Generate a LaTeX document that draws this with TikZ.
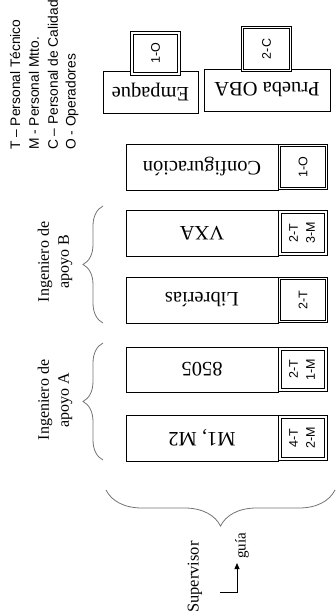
\documentclass[tikz,border=0pt]{standalone}
\usepackage{fontspec}
\setmainfont{Liberation Serif}
\newfontfamily\arialf{Liberation Sans}
\usetikzlibrary{arrows.meta,decorations.pathreplacing}
\newcommand{\twol}[2]{\rotatebox{90}{\begin{tabular}{@{}c@{}}#1\\#2\end{tabular}}}
\begin{document}
\begin{tikzpicture}[x=1pt,y=1pt,
  mainbox/.style={draw, line width=0.7pt, fill=white, inner sep=0pt,
    font=\fontsize{20.5}{24}\selectfont},
  tagbox/.style={draw, fill=white, double, double distance=1.3pt, line width=0.7pt,
    inner sep=0pt, font=\arialf\fontsize{12.5}{17}\selectfont},
  tagthick/.style={tagbox, line width=1.1pt},
  bracestyle/.style={draw=black!55, line width=0.8pt, decorate,
    decoration={brace, amplitude=#1, aspect=0.5}},
  lbl/.style={inner sep=0pt, rotate=90},
  legend/.style={lbl, anchor=west, font=\arialf\fontsize{13.8}{16}\selectfont},
  serifl/.style={lbl, align=center, font=\fontsize{16}{20}\selectfont}]
\useasboundingbox (0,0) rectangle (335,-616);

% legend
\node[legend] (lg1) at (15,-150) {T – Personal Técnico};
\node[legend] (lg2) at (34,-150) {M - Personal Mtto.};
\node[legend] (lg3) at (53,-150) {C – Personal de Calidad};
\node[legend] (lg4) at (72,-150) {O - Operadores};

% main boxes
\node[mainbox, minimum width=95, minimum height=42] (emp) at (150.5,-92) {\rotatebox{180}{Empaque}};
\node[mainbox, minimum width=126, minimum height=42] (oba) at (267,-90) {\rotatebox{180}{Prueba OBA}};
\node[mainbox, minimum width=152, minimum height=46] (conf) at (202,-167) {\rotatebox{180}{Configuración}};
\node[mainbox, minimum width=152, minimum height=46] (vxa) at (202,-233) {\rotatebox{180}{VXA}};
\node[mainbox, minimum width=152, minimum height=46] (lib) at (202,-300) {\rotatebox{180}{Librerías}};
\node[mainbox, minimum width=152, minimum height=45] (e85) at (202,-369.5) {\rotatebox{180}{8505}};
\node[mainbox, minimum width=152, minimum height=46] (m12) at (202,-438) {\rotatebox{180}{M1, M2}};

% tag boxes
\node[tagthick, minimum width=47, minimum height=41] (t1) at (155.5,-53.5) {\rotatebox{90}{1-O}};
\node[tagbox, minimum width=48, minimum height=43] (t2) at (266.5,-49) {\rotatebox{90}{2-C}};
\node[tagbox, minimum width=47, minimum height=43] (tc) at (303,-167) {\rotatebox{90}{1-O}};
\node[tagthick, minimum width=46, minimum height=42] (tv) at (303,-233) {\twol{2-T}{3-M}};
\node[tagbox, minimum width=47, minimum height=43] (tl) at (303,-300) {\rotatebox{90}{2-T}};
\node[tagthick, minimum width=46, minimum height=41] (te) at (303,-369.5) {\twol{2-T}{1-M}};
\node[tagthick, minimum width=46, minimum height=42] (tm) at (303,-438) {\twol{4-T}{2-M}};

% braces
\draw[bracestyle=20pt] (103,-323) -- (103,-206);
\draw[bracestyle=20pt] (103,-460) -- (103,-343);
\draw[bracestyle=36pt] (335,-490) -- (106,-490);

% labels
\node[serifl] (ingB) at (55,-262) {Ingeniero de\\apoyo B};
\node[serifl] (ingA) at (55,-400) {Ingeniero de\\apoyo A};
\node[serifl, font=\fontsize{16.5}{20}\selectfont] (sup) at (195,-577) {Supervisor};
\node[lbl, anchor=west, font=\fontsize{15}{18}\selectfont] (guia) at (242,-559) {guía};

% arrow
\coordinate (sv0) at (220,-592);
\draw[line width=0.8pt, -{Triangle[width=5pt,length=6pt]}] (sv0) -| ([xshift=-5pt,yshift=-4pt]guia.west);
\end{tikzpicture}
\end{document}
